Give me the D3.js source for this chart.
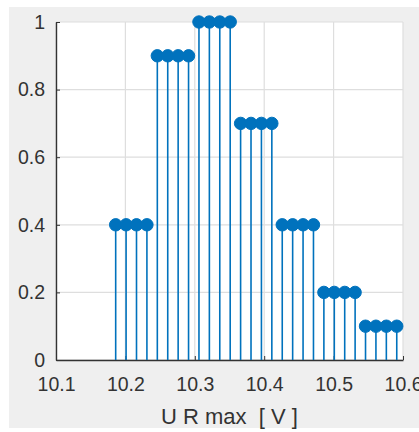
<!DOCTYPE html>
<html>
<head>
<meta charset="UTF-8">
<script src="https://d3js.org/d3.v7.min.js"></script>
<style>
    body { margin: 0; background: #ffffff; }
    text { font-family: Arial, 'Liberation Sans', sans-serif; fill: #333333; }
</style>
</head>
<body>
<svg id="chart" width="419" height="432"></svg>
<script>
// stem positions (V) and their values
var xValues = [10.186, 10.201, 10.216, 10.231,
               10.246, 10.261, 10.276, 10.291,
               10.306, 10.321, 10.336, 10.351,
               10.366, 10.381, 10.396, 10.411,
               10.426, 10.441, 10.456, 10.471,
               10.486, 10.501, 10.516, 10.531,
               10.546, 10.561, 10.576, 10.591];
var yValues = [0.4, 0.4, 0.4, 0.4,
               0.9, 0.9, 0.9, 0.9,
               1.0, 1.0, 1.0, 1.0,
               0.7, 0.7, 0.7, 0.7,
               0.4, 0.4, 0.4, 0.4,
               0.2, 0.2, 0.2, 0.2,
               0.1, 0.1, 0.1, 0.1];
var xTicks = [10.1, 10.2, 10.3, 10.4, 10.5, 10.6];
var yTicks = [0, 0.2, 0.4, 0.6, 0.8, 1];
var xLabel = "U R max  [ V ]";

var plotLeft = 56, plotRight = 403, plotTop = 22, plotBottom = 360;
var blue = "#0072BD";

var svg = d3.select("#chart");

// figure background
svg.append("rect")
    .attr("x", 9).attr("y", 7)
    .attr("width", 410).attr("height", 421)
    .attr("fill", "#efefef");

svg.append("rect")
    .attr("x", plotLeft).attr("y", plotTop)
    .attr("width", plotRight - plotLeft).attr("height", plotBottom - plotTop)
    .attr("fill", "#ffffff");

var x = d3.scaleLinear().domain([10.1, 10.6]).range([plotLeft, plotRight]);
var y = d3.scaleLinear().domain([0, 1]).range([plotBottom, plotTop]);

// grid
svg.append("g").selectAll("line")
    .data(xTicks).enter().append("line")
    .attr("x1", function (d) { return x(d); })
    .attr("x2", function (d) { return x(d); })
    .attr("y1", plotTop).attr("y2", plotBottom)
    .attr("stroke", "#dedede").attr("stroke-width", 1.2);

svg.append("g").selectAll("line")
    .data(yTicks).enter().append("line")
    .attr("x1", plotLeft).attr("x2", plotRight)
    .attr("y1", function (d) { return y(d); })
    .attr("y2", function (d) { return y(d); })
    .attr("stroke", "#dedede").attr("stroke-width", 1.2);

// axes
var xAxis = d3.axisBottom(x).tickValues(xTicks).tickSizeInner(-4).tickSizeOuter(0)
    .tickPadding(17).tickFormat(d3.format(".1f"));
var gx = svg.append("g").attr("transform", "translate(0," + plotBottom + ")").call(xAxis);

var yAxis = d3.axisLeft(y).tickValues(yTicks).tickSizeInner(-4).tickSizeOuter(0)
    .tickPadding(11).tickFormat(function (d) { return String(d); });
var gy = svg.append("g").attr("transform", "translate(" + plotLeft + ",0)").call(yAxis);

[gx, gy].forEach(function (g) {
    g.select(".domain").attr("stroke", "#333333").attr("stroke-width", 1.4);
    g.selectAll(".tick line").attr("stroke", "#333333");
    g.selectAll("text").style("font-size", "19.5px").attr("fill", "#333333");
});

// stems
var data = xValues.map(function (v, i) { return { x: v, y: yValues[i] }; });

svg.append("g").selectAll("line")
    .data(data).enter().append("line")
    .attr("x1", function (d) { return x(d.x); })
    .attr("x2", function (d) { return x(d.x); })
    .attr("y1", y(0))
    .attr("y2", function (d) { return y(d.y); })
    .attr("stroke", blue).attr("stroke-width", 1.6);

svg.append("g").selectAll("circle")
    .data(data).enter().append("circle")
    .attr("cx", function (d) { return x(d.x); })
    .attr("cy", function (d) { return y(d.y); })
    .attr("r", 6.2)
    .attr("fill", blue).attr("stroke", blue).attr("stroke-width", 1);

// axis label
svg.append("text")
    .attr("x", (plotLeft + plotRight) / 2).attr("y", 424)
    .attr("text-anchor", "middle")
    .style("font-size", "22px")
    .style("white-space", "pre")
    .attr("xml:space", "preserve")
    .text(xLabel);
</script>
</body>
</html>
